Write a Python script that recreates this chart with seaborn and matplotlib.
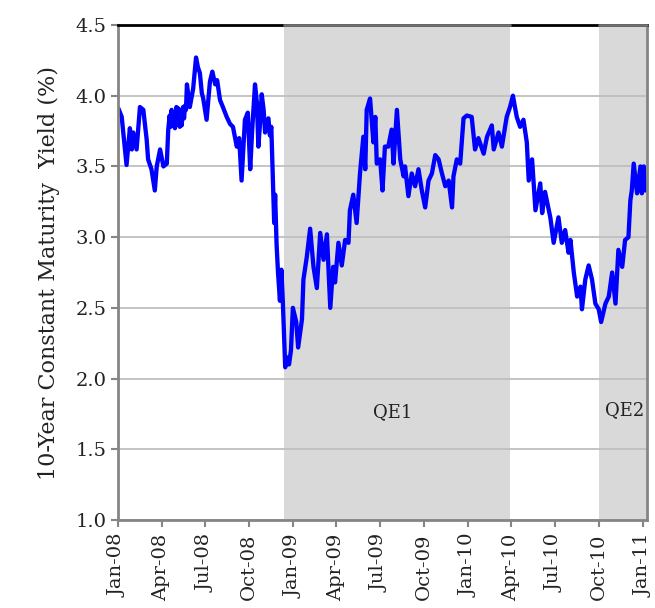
import pandas as pd
import numpy as np
import matplotlib
matplotlib.use('Agg')
import matplotlib.pyplot as plt
import matplotlib.dates as mdates
import seaborn as sns

# Data (days counted from 1 Jan 2008)
days = [1, 8, 10, 18, 25, 29, 32, 39, 46, 53, 60, 63, 70, 77, 81, 88, 95, 102,
        105, 108, 110, 112, 115, 117, 119, 122, 124, 126, 129, 131, 133, 136, 138, 140, 142,
        144, 150, 157, 163, 167, 171, 175, 178, 185, 192, 197, 203, 207,
        213, 219, 227, 234, 240, 248, 253, 258, 265, 271, 276, 280, 286, 290, 293, 296, 300,
        304, 307, 314, 317, 320, 324, 326, 328, 331, 334, 338, 341, 344, 349, 353, 357, 361,
        365, 372, 376, 384, 387, 394, 401, 408, 415, 422, 429, 436, 443, 449, 453, 460, 467,
        474, 481, 484, 491, 498, 505, 512, 516, 519, 526, 533, 537, 540, 547, 552, 557, 564,
        571, 575, 582, 589, 596, 599, 606, 613, 620, 627, 634, 641, 648, 655, 662, 669, 676,
        683, 690, 697, 700, 707, 714, 721, 728, 738, 745, 752, 763, 770, 780, 784, 794, 801,
        811, 818, 824, 832, 839, 846, 853, 857, 864, 871, 881, 885, 891, 902, 909, 919, 926,
        933, 940, 944, 951, 958, 965, 968, 975, 982, 989, 996, 1003, 1008, 1017, 1024, 1031,
        1038, 1044, 1052, 1058, 1065, 1069, 1072, 1076, 1083, 1090, 1093, 1097, 1100, 1104]
yields = [3.91, 3.85, 3.78, 3.51, 3.77, 3.62, 3.74, 3.62, 3.92, 3.90, 3.69, 3.55, 3.48, 3.33,
          3.50, 3.62, 3.50, 3.52,
          3.76, 3.86, 3.78, 3.90, 3.80, 3.88, 3.77, 3.92, 3.80, 3.91, 3.78, 3.90, 3.79, 3.92,
          3.84, 3.93, 3.90,
          4.08, 3.92, 4.05, 4.27,
          4.20, 4.16, 4.02, 3.98, 3.83, 4.10, 4.17, 4.08, 4.11, 3.97, 3.92, 3.85, 3.80, 3.78,
          3.64, 3.70, 3.40, 3.83, 3.88, 3.48, 3.75, 4.08, 3.95, 3.64, 3.78, 4.01, 3.90, 3.74,
          3.84, 3.72, 3.78, 3.33, 3.10, 3.30, 2.95, 2.75, 2.55, 2.77, 2.55, 2.08, 2.15, 2.10,
          2.20, 2.50, 2.40, 2.22, 2.42, 2.70, 2.86, 3.06, 2.79, 2.64, 3.03, 2.84, 3.02, 2.50,
          2.79, 2.68, 2.96, 2.80, 2.98, 2.96, 3.19, 3.30, 3.10, 3.45, 3.71, 3.48, 3.90, 3.98,
          3.67, 3.85, 3.52, 3.55, 3.33, 3.64, 3.64, 3.76, 3.52, 3.90, 3.55, 3.43, 3.50, 3.29,
          3.45, 3.36, 3.48, 3.33, 3.21, 3.40, 3.45, 3.58, 3.55, 3.45, 3.36, 3.40, 3.21, 3.43,
          3.55, 3.52, 3.84, 3.86, 3.85, 3.62, 3.70, 3.59, 3.71, 3.79, 3.62, 3.74, 3.64, 3.85,
          3.92, 4.00, 3.85, 3.78, 3.83, 3.67, 3.40, 3.55, 3.19, 3.38, 3.17, 3.32, 3.14, 2.96,
          3.14, 2.96, 3.05, 2.89, 2.98, 2.75, 2.58, 2.65, 2.49, 2.70, 2.80, 2.70, 2.53, 2.49,
          2.40, 2.53, 2.58, 2.75, 2.53, 2.91, 2.79, 2.98, 3.00, 3.26, 3.33, 3.52, 3.31, 3.50,
          3.31, 3.50, 3.33, 3.35]

qe_labels = ['QE1', 'QE2']
qe_start = ['2008-12-12', '2010-10-01']
qe_end = ['2010-03-29', '2011-01-09']

df = pd.DataFrame({'date': pd.Timestamp('2008-01-01') + pd.to_timedelta(days, unit='D'),
                   'yield': yields})

sns.set_style('white')
plt.rcParams['font.family'] = ['DejaVu Serif']

fig = plt.figure(figsize=(6.55, 6.08), dpi=100)
ax = fig.add_axes([0.180, 0.1447, 0.808, 0.8142])

for lab, s, e in zip(qe_labels, qe_start, qe_end):
    s, e = pd.Timestamp(s), pd.Timestamp(e)
    ax.axvspan(s, e, color='#d9d9d9', lw=0, zorder=0)
    ax.plot([s, e], [4.5, 4.5], color='#707070', lw=2, clip_on=False, zorder=3)

sns.lineplot(data=df, x='date', y='yield', ax=ax, color='#0000ff', lw=3.1, zorder=2)

ax.text(pd.Timestamp('2009-07-27'), 1.76, 'QE1', ha='center', va='center', fontsize=13, color='#222222')
ax.text(pd.Timestamp('2010-11-22'), 1.78, 'QE2', ha='center', va='center', fontsize=13, color='#222222')

ax.set_ylim(1.0, 4.5)
ax.set_yticks(np.arange(1.0, 4.51, 0.5))
ax.yaxis.set_major_formatter(matplotlib.ticker.FormatStrFormatter('%.1f'))
ax.set_xlim(pd.Timestamp('2008-01-01'), pd.Timestamp('2011-01-09'))
ax.xaxis.set_major_locator(mdates.MonthLocator(bymonth=[1, 4, 7, 10]))
ax.xaxis.set_major_formatter(mdates.DateFormatter('%b-%y'))

ax.set_axisbelow(True)
ax.grid(axis='y', color='#bfbfbf', lw=1.3)
ax.grid(axis='x', visible=False)

for side in ['left', 'bottom', 'right']:
    ax.spines[side].set_color('#858585')
    ax.spines[side].set_linewidth(2)
ax.spines['top'].set_color('black')
ax.spines['top'].set_linewidth(2)

ax.tick_params(axis='both', direction='out', length=5, width=1.5, color='#858585',
               labelsize=14, labelcolor='#222222')
ax.tick_params(axis='y', left=True, pad=3)
ax.tick_params(axis='x', bottom=True, pad=5, labelrotation=90)

ax.set_xlabel('')
ax.set_ylabel('10-Year Constant Maturity  Yield (%)', fontsize=16, color='#222222', labelpad=11)

fig.savefig('out.png', dpi=100)
